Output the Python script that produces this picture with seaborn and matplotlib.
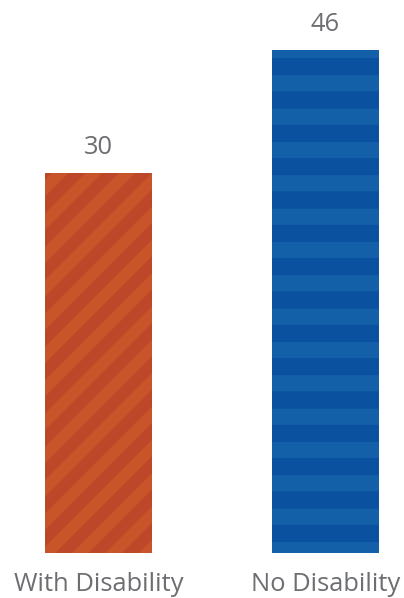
import matplotlib
matplotlib.use("Agg")
import matplotlib.pyplot as plt
import seaborn as sns
import pandas as pd

# =====================================
# Data
# =====================================

groups = ["With Disability", "No Disability"]
values = [30, 46]

bar_colors = ["#BC4829", "#0A529F"]
stripe_colors = ["#C8552A", "#1460A8"]
hatches = ["//", "-"]
hatch_widths = [4.2, 5.8]

text_color = "#6D6E71"
baseline = -19.4

df = pd.DataFrame({"group": groups, "value": values})

# =====================================
# Figure
# =====================================

sns.set_style("white")
plt.rcParams["font.family"] = ["Open Sans", "DejaVu Sans"]
plt.rcParams["hatch.linewidth"] = 5.0

dpi = 200
fig = plt.figure(figsize=(404 / dpi, 598 / dpi), dpi=dpi)
ax = fig.add_axes([0, 0, 1, 1])

sns.barplot(
    data=df,
    x="group",
    y="value",
    hue="group",
    palette=bar_colors,
    width=0.471,
    legend=False,
    ax=ax
)

for i, p in enumerate(ax.patches):
    p.set_y(baseline)
    p.set_height(values[i] - baseline)
    p.set_facecolor(bar_colors[i])
    p.set_edgecolor(stripe_colors[i])
    p.set_linewidth(0)
    p.set_hatch(hatches[i])
    if hasattr(p, "set_hatch_linewidth"):
        p.set_hatch_linewidth(hatch_widths[i])

ax.set_xlim(-0.434, 1.346)
ax.set_ylim(-25.25, 52.5)
ax.axis("off")

# value labels
for i, v in enumerate(values):
    ax.annotate(
        str(v),
        xy=(i, v),
        xytext=(0, 19 * 72 / dpi),
        textcoords="offset points",
        ha="center",
        va="baseline",
        fontsize=9.2,
        color=text_color
    )

# category labels
for i, g in enumerate(groups):
    ax.text(
        i, 7 / 598, g,
        transform=ax.get_xaxis_transform(),
        ha="center",
        va="baseline",
        fontsize=9.2,
        color=text_color
    )

fig.savefig("out.png", dpi=dpi)
